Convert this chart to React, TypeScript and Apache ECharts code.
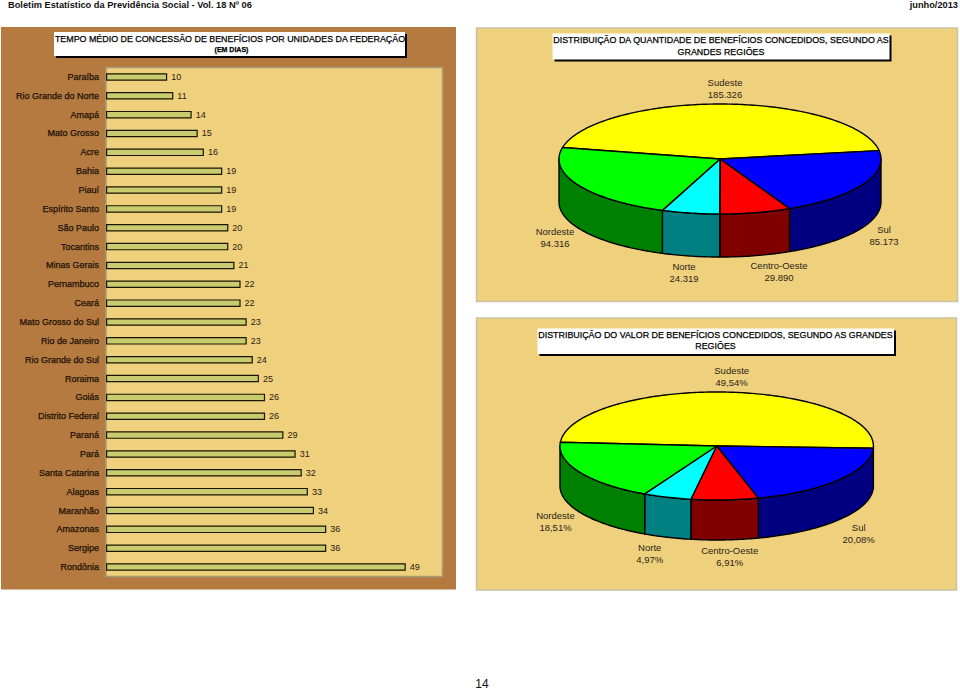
import React, { useEffect, useRef } from "react";
import * as echarts from "echarts";

const states = ["Paraíba","Rio Grande do Norte","Amapá","Mato Grosso","Acre","Bahia","Piauí","Espírito Santo","São Paulo","Tocantins","Minas Gerais","Pernambuco","Ceará","Mato Grosso do Sul","Rio de Janeiro","Rio Grande do Sul","Roraima","Goiás","Distrito Federal","Paraná","Pará","Santa Catarina","Alagoas","Maranhão","Amazonas","Sergipe","Rondônia"];
const days = [10,11,14,15,16,19,19,19,20,20,21,22,22,23,23,24,25,26,26,29,31,32,33,34,36,36,49];

const regions = ["Sudeste","Sul","Centro-Oeste","Norte","Nordeste"];
const quantity = [185326,85173,29890,24319,94316];
const valueShare = [49.54,20.08,6.91,4.97,18.51];

const topColors = ["#FFFF00","#0000FF","#FF0000","#00FFFF","#00FF00"];
const sideColors = ["#808000","#000080","#800000","#008080","#008000"];

const FONT = '"Liberation Sans", Arial, sans-serif';
const fmtQty = (v: number) => String(v).replace(/\B(?=(\d{3})+$)/g, ".");
const fmtPct = (v: number) => v.toFixed(2).replace(".", ",") + "%";

function pie3D(
  values: number[],
  fmt: (v: number) => string,
  geo: { cx: number; cy: number; rx: number; ry: number; depth: number; start: number },
  labelAt: number[][]
) {
  const total = values.reduce((a, b) => a + b, 0);
  const pt = (deg: number, dy = 0) => {
    const r = (deg * Math.PI) / 180;
    return [geo.cx + geo.rx * Math.cos(r), geo.cy - geo.ry * Math.sin(r) + dy];
  };
  return {
    type: "custom",
    coordinateSystem: "none",
    silent: true,
    data: values,
    renderItem: (params: any, api: any) => {
      const i = params.dataIndex;
      const before = values.slice(0, i).reduce((a, b) => a + b, 0);
      const a0 = geo.start - (before / total) * 360;
      const a1 = a0 - (api.value(0) / total) * 360;
      const children: any[] = [];
      const lineStyle = { stroke: "#000", lineWidth: 1.4, lineJoin: "round" };
      const wallFrom = Math.min(a0, 0);
      const wallTo = Math.max(a1, -180);
      if (wallFrom > wallTo) {
        const pts: number[][] = [];
        for (let d = wallFrom; d > wallTo; d -= 1) pts.push(pt(d));
        pts.push(pt(wallTo));
        for (let d = wallTo; d < wallFrom; d += 1) pts.push(pt(d, geo.depth));
        pts.push(pt(wallFrom, geo.depth));
        children.push({
          type: "polygon",
          shape: { points: pts },
          style: { fill: sideColors[i], ...lineStyle },
        });
      }
      const top: number[][] = [[geo.cx, geo.cy]];
      for (let d = a0; d > a1; d -= 1) top.push(pt(d));
      top.push(pt(a1));
      children.push({
        type: "polygon",
        shape: { points: top },
        style: { fill: topColors[i], ...lineStyle },
      });
      children.push({
        type: "text",
        x: labelAt[i][0],
        y: labelAt[i][1],
        style: {
          text: regions[i] + "\n" + fmt(api.value(0)),
          fill: "#2a2418",
          font: `9.5px ${FONT}`,
          align: "center",
          verticalAlign: "middle",
          lineHeight: 12,
        },
      });
      return { type: "group", children };
    },
  };
}

function titleBox(x: number, y: number, w: number, h: number, lines: { t: string; cx: number; cy: number; font: string }[]) {
  return [
    { type: "rect", z: 5, shape: { x: x + 2, y: y + 2, width: w, height: h }, style: { fill: "#000" } },
    { type: "rect", z: 6, shape: { x, y, width: w, height: h }, style: { fill: "#fff" } },
    ...lines.map((l) => ({
      type: "text",
      z: 7,
      x: l.cx,
      y: l.cy,
      style: { text: l.t, fill: "#000", stroke: "#000", lineWidth: 0.25, font: l.font, align: "center", verticalAlign: "middle" },
    })),
  ];
}

export default function App() {
  const ref = useRef<HTMLDivElement>(null);
  useEffect(() => {
    document.body.style.margin = "0";
    const chart = echarts.init(ref.current!, undefined, { renderer: "svg" });
    const titleFont = `8.9px ${FONT}`;
    chart.setOption({
      animation: false,
      backgroundColor: "#fff",
      grid: {
        left: 106,
        top: 67.5,
        width: 336.5,
        height: 509,
        show: true,
        backgroundColor: "#EFD07C",
        borderColor: "#A79A78",
        borderWidth: 1.5,
        z: 1,
      },
      xAxis: { type: "value", min: 0, max: 55, show: false },
      yAxis: {
        type: "category",
        inverse: true,
        data: states,
        axisLine: { show: false },
        axisTick: { show: false },
        splitLine: { show: false },
        axisLabel: {
          color: "#1c1005",
          fontFamily: FONT,
          fontSize: 9,
          margin: 7,
          interval: 0,
          textBorderColor: "#1c1005",
          textBorderWidth: 0.25,
        },
      },
      series: [
        {
          type: "bar",
          data: days,
          barWidth: 7.5,
          itemStyle: { color: "#C9CC6E", borderColor: "#1a1400", borderWidth: 1.2 },
          label: { show: true, position: "right", distance: 4, color: "#2a2010", fontFamily: FONT, fontSize: 9 },
          silent: true,
        },
        pie3D(quantity, fmtQty, { cx: 720, cy: 159, rx: 161, ry: 55, depth: 43, start: 168 }, [
          [725, 88], [884, 235], [779, 271.5], [684, 272], [555, 237.5],
        ]),
        pie3D(valueShare, fmtPct, { cx: 716.7, cy: 446, rx: 156.7, ry: 54, depth: 40, start: 176 }, [
          [731.7, 376.3], [858.7, 533], [729.7, 556], [649.7, 553.5], [555.5, 521.5],
        ]),
      ],
      graphic: {
        elements: [
          { type: "rect", z: -10, shape: { x: 1, y: 27, width: 455, height: 562.5 }, style: { fill: "#B47A3F" } },
          { type: "rect", z: -10, shape: { x: 476.5, y: 28, width: 481, height: 273.5 }, style: { fill: "#EFD07C", stroke: "#C9C2A6", lineWidth: 1.5 } },
          { type: "rect", z: -10, shape: { x: 476.5, y: 318, width: 480, height: 272 }, style: { fill: "#EFD07C", stroke: "#C9C2A6", lineWidth: 1.5 } },
          ...titleBox(54, 32, 351, 24, [
            { t: "TEMPO MÉDIO DE CONCESSÃO DE BENEFÍCIOS POR UNIDADES DA FEDERAÇÃO", cx: 230, cy: 38.5, font: titleFont },
            { t: "(EM DIAS)", cx: 231.5, cy: 49.5, font: `bold 7px ${FONT}` },
          ]),
          ...titleBox(552.5, 33.5, 337, 26, [
            { t: "DISTRIBUIÇÃO DA QUANTIDADE DE BENEFÍCIOS CONCEDIDOS, SEGUNDO AS", cx: 721, cy: 40, font: titleFont },
            { t: "GRANDES REGIÕES", cx: 721, cy: 51.5, font: titleFont },
          ]),
          ...titleBox(537.5, 328.5, 356.5, 25.5, [
            { t: "DISTRIBUIÇÃO DO VALOR DE BENEFÍCIOS CONCEDIDOS, SEGUNDO AS GRANDES", cx: 715.5, cy: 334.8, font: titleFont },
            { t: "REGIÕES", cx: 715.5, cy: 346.3, font: titleFont },
          ]),
          { type: "text", z: 7, x: 8, y: 5, style: { text: "Boletim Estatístico da Previdência Social - Vol. 18 Nº 06", fill: "#111", font: `bold 9.25px ${FONT}`, verticalAlign: "middle" } },
          { type: "text", z: 7, x: 958, y: 5, style: { text: "junho/2013", fill: "#111", font: `bold 9.25px ${FONT}`, align: "right", verticalAlign: "middle" } },
          { type: "text", z: 7, x: 482, y: 684, style: { text: "14", fill: "#111", font: `12px ${FONT}`, align: "center", verticalAlign: "middle" } },
        ],
      },
    });
    return () => chart.dispose();
  }, []);
  return <div ref={ref} style={{ width: 960, height: 691 }} />;
}
